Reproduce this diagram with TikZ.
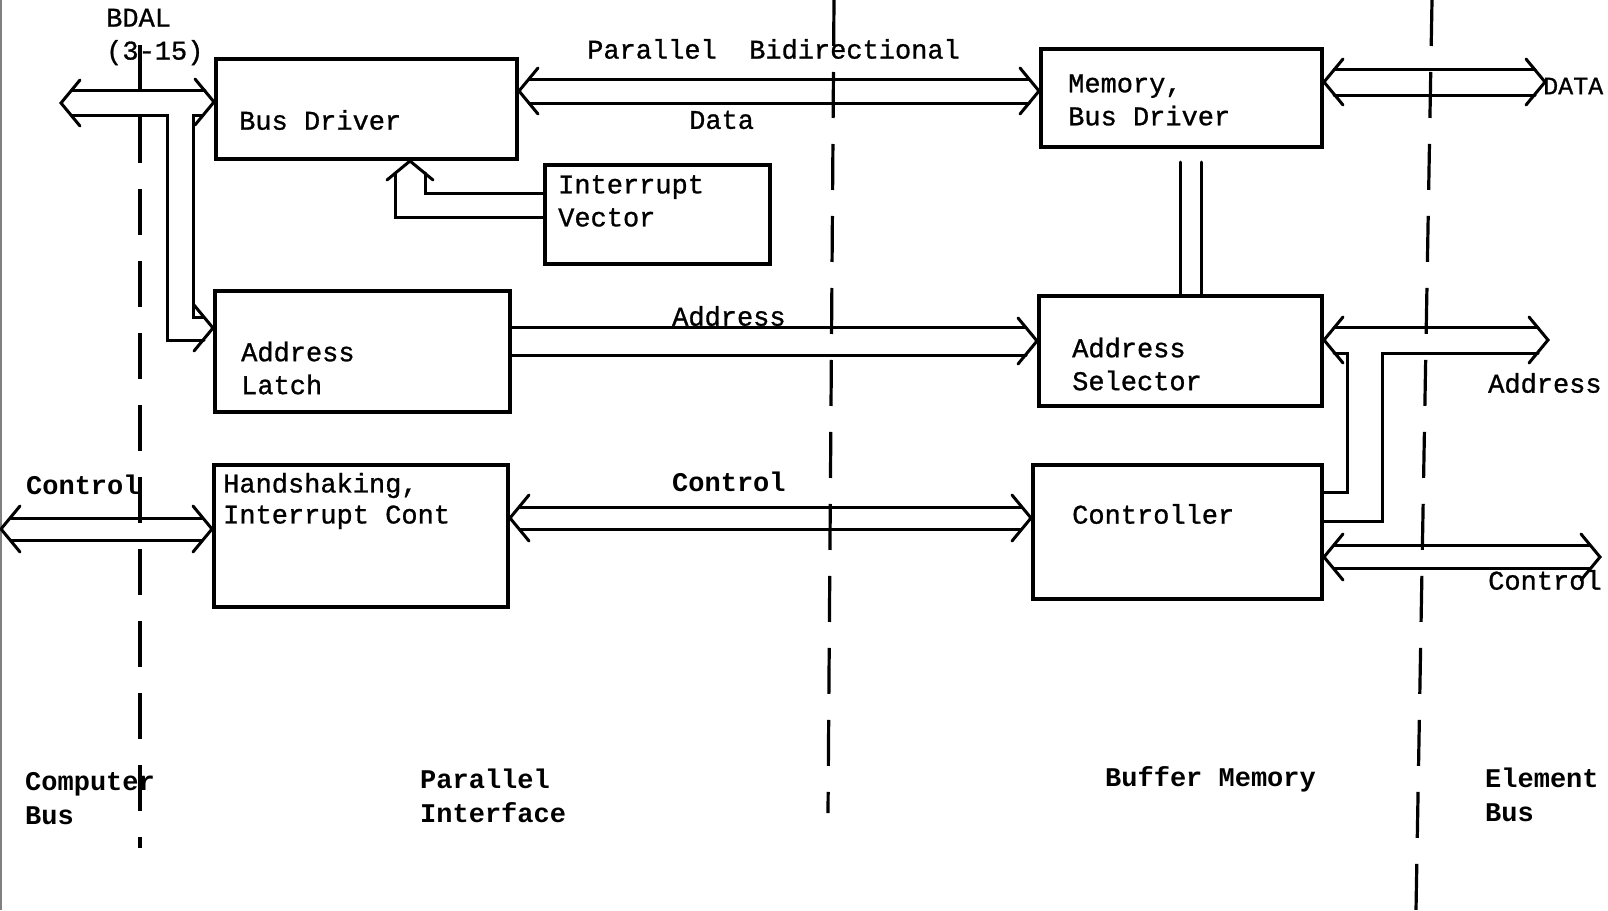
\documentclass[tikz,border=0pt]{standalone}
\usepackage{fontspec}
\newfontfamily\typer[UprightFeatures={FakeBold=1}]{Liberation Mono}
\begin{document}
\begin{tikzpicture}
[
    x=1pt, y=-1pt,
    block/.style={draw, line width=4pt, anchor=north west, inner sep=0pt},
    bus/.style={line width=3pt, line cap=round},
    clipends/.style={shorten <=10pt, shorten >=10pt},
    divider/.style={line width=3.2pt, dash pattern=on 46pt off 26pt},
    txt/.style={anchor=west, inner sep=0pt, align=left, font=\typer\fontsize{27}{33}\selectfont},
    head/.style={txt, font=\typer\bfseries\fontsize{27}{34}\selectfont},
    chev/.pic={\draw[bus] (-19,-23) -- (0,0) -- (-19,23);},
]
\useasboundingbox (0,0) rectangle (1608,910);
\draw[gray, line width=1.5pt] (1,0) -- (1,910);

% section dividers
\draw[divider] (140,45) -- (140,848);
\draw[divider] (834,0) -- (828,813);
\draw[divider] (1432,0) -- (1416,910);

% blocks
\node[block, minimum width=301pt, minimum height=100pt] (bd) at (214,57) {};
\node[block, minimum width=225pt, minimum height=99pt] (iv) at (543,163) {};
\node[block, minimum width=295pt, minimum height=121pt] (al) at (213,289) {};
\node[block, minimum width=294pt, minimum height=142pt] (hs) at (212,463) {};
\node[block, minimum width=281pt, minimum height=98pt] (mbd) at (1039,47) {};
\node[block, minimum width=283pt, minimum height=110pt] (as) at (1037,294) {};
\node[block, minimum width=289pt, minimum height=134pt] (ctl) at (1031,463) {};

\node[txt] (bdtext) at (239,120) {Bus Driver};
\node[txt] (ivtext) at (558,201) {Interrupt\\Vector};
\node[txt] (altext) at (241,368) {Address\\Latch};
\node[txt, font=\typer\fontsize{27}{31}\selectfont] (hstext) at (223,501) {Handshaking,\\Interrupt Cont};
\node[txt] (mbdtext) at (1068,100) {Memory,\\Bus Driver};
\node[txt] (astext) at (1072,364) {Address\\Selector};
\node[txt] (ctltext) at (1072,514) {Controller};

% BDAL bus
\coordinate (bdal) at (61,103);
\pic[rotate=180] at (bdal) {chev};
\pic at (bd.west |- 0,102) {chev};
\pic at (al.west |- 0,328) {chev};
\draw[bus, shorten <=11pt, shorten >=9pt] (bdal |- 0,90) -- (bd.west |- 0,90);
\draw[bus, shorten <=11pt, shorten >=9pt] (bdal |- 0,115) -- (167,115) -- (167,340) -- (al.west |- 0,340);
\draw[bus, shorten >=9pt] (203,115) -- (193,115) -- (193,317) -- (al.west |- 0,317);
\node[txt] (bdallbl) at (106,37) {BDAL\\(3-15)};

% interrupt vector
\pic[rotate=90] at (bd.south -| 410,0) {chev};
\draw[bus, shorten >=12pt] (iv.west |- 0,193) -- (425,193) -- (425,0 |- bd.south);
\draw[bus, shorten >=12pt] (iv.west |- 0,217) -- (395,217) -- (395,0 |- bd.south);

% data bus
\pic[rotate=180] at (bd.east |- 0,91) {chev};
\pic at (mbd.west |- 0,91) {chev};
\draw[bus, clipends] (bd.east |- 0,79) -- (mbd.west |- 0,79);
\draw[bus, clipends] (bd.east |- 0,103) -- (mbd.west |- 0,103);
\node[txt] (pbd) at (587,49) {Parallel\ \ Bidirectional};
\node[txt] (data) at (689,120) {Data};

% address bus
\pic at (as.west |- 0,341) {chev};
\draw[bus, shorten >=11pt] (al.east |- 0,327) -- (as.west |- 0,327);
\draw[bus, shorten >=11pt] (al.east |- 0,355) -- (as.west |- 0,355);
\node[txt] (addr) at (672,316) {Address};

% control bus
\pic[rotate=180] at (hs.east |- 0,518) {chev};
\pic at (ctl.west |- 0,518) {chev};
\draw[bus, clipends] (hs.east |- 0,507) -- (ctl.west |- 0,507);
\draw[bus, clipends] (hs.east |- 0,529) -- (ctl.west |- 0,529);
\node[head] (ctrl) at (672,482) {Control};

% computer bus control
\coordinate (ctrlin) at (1,529);
\pic[rotate=180] at (ctrlin) {chev};
\pic at (hs.west |- 0,529) {chev};
\draw[bus, clipends] (ctrlin |- 0,518) -- (hs.west |- 0,518);
\draw[bus, clipends] (ctrlin |- 0,540) -- (hs.west |- 0,540);
\node[head] (ctrlinlbl) at (26,485) {Control};

% memory to element bus
\draw[bus, shorten <=13pt] (mbd.south -| 1180,0) -- (as.north -| 1180,0);
\draw[bus, shorten <=13pt] (mbd.south -| 1201,0) -- (as.north -| 1201,0);

\coordinate (dataout) at (1545,82);
\pic[rotate=180] at (mbd.east |- 0,82) {chev};
\pic at (dataout) {chev};
\draw[bus, clipends] (mbd.east |- 0,69) -- (dataout |- 0,69);
\draw[bus, clipends] (mbd.east |- 0,95) -- (dataout |- 0,95);
\node[txt, font=\typer\fontsize{25}{30}\selectfont] (datalbl) at (1543,86) {DATA};

\coordinate (addrout) at (1548,340);
\pic[rotate=180] at (as.east |- 0,340) {chev};
\pic at (addrout) {chev};
\draw[bus, clipends] (as.east |- 0,327) -- (addrout |- 0,327);
\draw[bus, shorten >=10pt] (ctl.east |- 0,521) -- (1382,521) -- (1382,353) -- (addrout |- 0,353);
\draw[bus, shorten >=10pt] (ctl.east |- 0,492) -- (1347,492) -- (1347,353) -- (as.east |- 0,353);
\node[txt] (addrlbl) at (1488,383) {Address};

\coordinate (ctrlout) at (1600,557);
\pic[rotate=180] at (ctl.east |- 0,557) {chev};
\pic at (ctrlout) {chev};
\draw[bus, clipends] (ctl.east |- 0,545) -- (ctrlout |- 0,545);
\draw[bus, clipends] (ctl.east |- 0,568) -- (ctrlout |- 0,568);
\node[txt] (ctrllbl) at (1488,580) {Control};

% section names
\node[head] (compbus) at (25,799) {Computer\\Bus};
\node[head] (parint) at (420,796) {Parallel\\Interface};
\node[head] (bufmem) at (1105,779) {Buffer Memory};
\node[head] (elembus) at (1485,795) {Element\\Bus};
\end{tikzpicture}
\end{document}
